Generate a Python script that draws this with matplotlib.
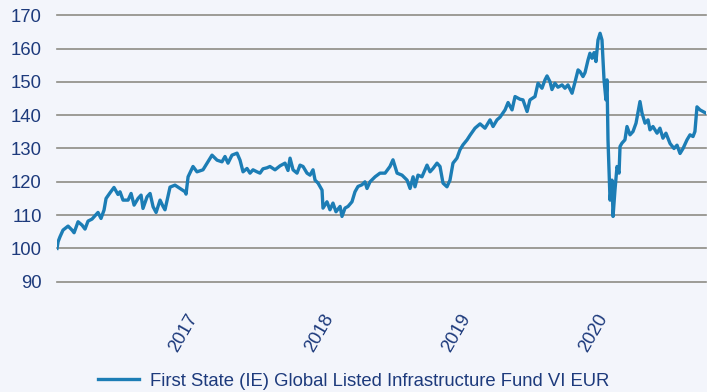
import matplotlib
matplotlib.use("Agg")
import matplotlib.pyplot as plt

# Fund performance, rebased to 100 at launch (time in decimal years)
years = [
    2016.078, 2016.086, 2016.100, 2016.122, 2016.159, 2016.188, 2016.203, 2016.232,
    2016.261, 2016.283, 2016.305, 2016.334, 2016.356, 2016.378, 2016.400, 2016.422,
    2016.437, 2016.466, 2016.495, 2016.524, 2016.539, 2016.561, 2016.598, 2016.620,
    2016.642, 2016.671, 2016.693, 2016.707, 2016.737, 2016.759, 2016.781, 2016.803,
    2016.832, 2016.854, 2016.868, 2016.905, 2016.941, 2016.978, 2017.015, 2017.022,
    2017.037, 2017.073, 2017.102, 2017.146, 2017.176, 2017.212, 2017.249, 2017.285,
    2017.307, 2017.329, 2017.358, 2017.395, 2017.417, 2017.439, 2017.468, 2017.490,
    2017.512, 2017.541, 2017.563, 2017.585, 2017.614, 2017.636, 2017.673, 2017.710,
    2017.746, 2017.768, 2017.783, 2017.805, 2017.834, 2017.856, 2017.878, 2017.907,
    2017.929, 2017.951, 2017.966, 2017.988, 2018.017, 2018.024, 2018.053, 2018.075,
    2018.097, 2018.119, 2018.149, 2018.163, 2018.185, 2018.207, 2018.236, 2018.258,
    2018.280, 2018.309, 2018.331, 2018.346, 2018.368, 2018.405, 2018.441, 2018.478,
    2018.514, 2018.536, 2018.566, 2018.602, 2018.639, 2018.661, 2018.683, 2018.697,
    2018.719, 2018.748, 2018.785, 2018.807, 2018.829, 2018.858, 2018.880, 2018.902,
    2018.931, 2018.953, 2018.975, 2019.004, 2019.026, 2019.048, 2019.078, 2019.100,
    2019.136, 2019.173, 2019.209, 2019.246, 2019.268, 2019.297, 2019.319, 2019.356,
    2019.378, 2019.407, 2019.429, 2019.465, 2019.487, 2019.517, 2019.538, 2019.575,
    2019.597, 2019.626, 2019.648, 2019.663, 2019.685, 2019.699, 2019.721, 2019.743,
    2019.773, 2019.794, 2019.816, 2019.846, 2019.868, 2019.890, 2019.904, 2019.926,
    2019.941, 2019.963, 2019.977, 2019.992, 2020.007, 2020.021, 2020.036, 2020.051,
    2020.065, 2020.080, 2020.094, 2020.102, 2020.109, 2020.124, 2020.138, 2020.146,
    2020.160, 2020.175, 2020.190, 2020.197, 2020.211, 2020.233, 2020.248, 2020.270,
    2020.292, 2020.314, 2020.343, 2020.358, 2020.380, 2020.402, 2020.416, 2020.438,
    2020.468, 2020.489, 2020.511, 2020.533, 2020.563, 2020.592, 2020.614, 2020.636,
    2020.658, 2020.687, 2020.709, 2020.731, 2020.745, 2020.760, 2020.782, 2020.804,
    2020.826,
]
values = [
    100.0, 102.0, 103.5, 105.5, 106.7, 105.5, 104.7, 108.0,
    107.0, 105.8, 108.2, 108.8, 109.8, 110.8, 109.0, 111.5,
    115.0, 116.7, 118.3, 116.2, 117.0, 114.5, 114.5, 116.5,
    113.0, 115.0, 116.0, 112.0, 115.5, 116.5, 112.5, 110.8,
    114.5, 112.6, 111.6, 118.4, 119.0, 118.0, 117.0, 116.3,
    121.5, 124.6, 123.0, 123.6, 125.6, 128.0, 126.5, 126.0,
    127.6, 125.6, 128.0, 128.6, 126.5, 123.0, 124.0, 122.6,
    123.6, 123.0, 122.6, 123.9, 124.2, 124.6, 123.6, 124.8,
    125.6, 123.4, 127.1, 123.6, 122.6, 125.0, 124.6, 122.6,
    122.0, 123.6, 120.5, 119.6, 117.5, 112.1, 114.0, 111.6,
    113.6, 111.0, 112.6, 109.6, 112.1, 112.6, 114.0, 117.0,
    118.6, 119.1, 120.0, 118.0, 120.0, 121.5, 122.6, 122.6,
    124.6, 126.6, 122.6, 122.0, 120.5, 118.0, 121.5, 118.5,
    122.0, 121.5, 125.0, 123.0, 124.0, 125.6, 124.6, 119.6,
    118.5, 120.5, 125.6, 127.1, 129.6, 131.1, 132.6, 134.0,
    136.1, 137.4, 136.1, 138.6, 136.6, 138.6, 139.4, 141.6,
    143.8, 141.6, 145.6, 144.8, 144.6, 141.1, 144.6, 145.6,
    149.6, 148.1, 150.6, 151.8, 150.0, 147.7, 149.6, 148.4,
    149.1, 148.1, 149.1, 146.6, 150.0, 153.6, 153.1, 151.6,
    152.8, 156.6, 158.6, 157.1, 158.8, 156.1, 162.6, 164.6,
    162.6, 150.6, 144.6, 150.6, 132.6, 114.5, 120.5, 109.6,
    117.5, 124.6, 122.6, 130.6, 131.6, 132.6, 136.6, 134.1,
    135.1, 137.6, 144.1, 140.6, 137.6, 138.6, 135.6, 136.6,
    134.6, 136.1, 133.1, 134.6, 131.5, 130.0, 131.0, 128.5,
    130.0, 132.6, 134.1, 133.6, 135.1, 142.5, 141.6, 141.1,
    140.6,
]
year_ticks = [2017, 2018, 2019, 2020]
y_ticks = [90, 100, 110, 120, 130, 140, 150, 160, 170]
series_name = "First State (IE) Global Listed Infrastructure Fund VI EUR"

BG = "#f3f5fb"
NAVY = "#1d3a7c"
LINE = "#1c7db5"
GRID = "#8d8c85"
FS = 13.3

plt.rcParams["font.family"] = ["Liberation Sans", "DejaVu Sans"]

fig = plt.figure(figsize=(7.07, 3.92), dpi=100, facecolor=BG)
ax = fig.add_axes([57 / 707, 1 - 281.7 / 392, (706 - 57) / 707, (281.7 - 15.3) / 392])
ax.set_facecolor(BG)

ax.plot(years, values, color=LINE, linewidth=2.4, solid_joinstyle="round",
        label=series_name, zorder=3)

ax.set_xlim(years[0], years[-1])
ax.set_ylim(90, 170)
ax.set_yticks(y_ticks)
ax.set_xticks(year_ticks)
ax.set_xticklabels([str(y) for y in year_ticks], rotation=60, ha="center", va="top")

ax.grid(axis="y", color=GRID, linewidth=1.2, zorder=1)
ax.grid(axis="x", visible=False)
for sp in ax.spines.values():
    sp.set_visible(False)
ax.tick_params(axis="y", length=0, pad=11, labelsize=FS, labelcolor=NAVY)
ax.tick_params(axis="x", length=0, pad=21, labelsize=FS, labelcolor=NAVY)
for gl in ax.get_ygridlines():
    gl.set_clip_on(False)

leg = fig.legend(loc="center", bbox_to_anchor=(0.5, 1 - 381 / 392), frameon=False,
                 handlelength=2.2, handletextpad=0.6, borderpad=0,
                 fontsize=FS, labelcolor=NAVY)

fig.savefig("out.png", dpi=100, facecolor=BG)
